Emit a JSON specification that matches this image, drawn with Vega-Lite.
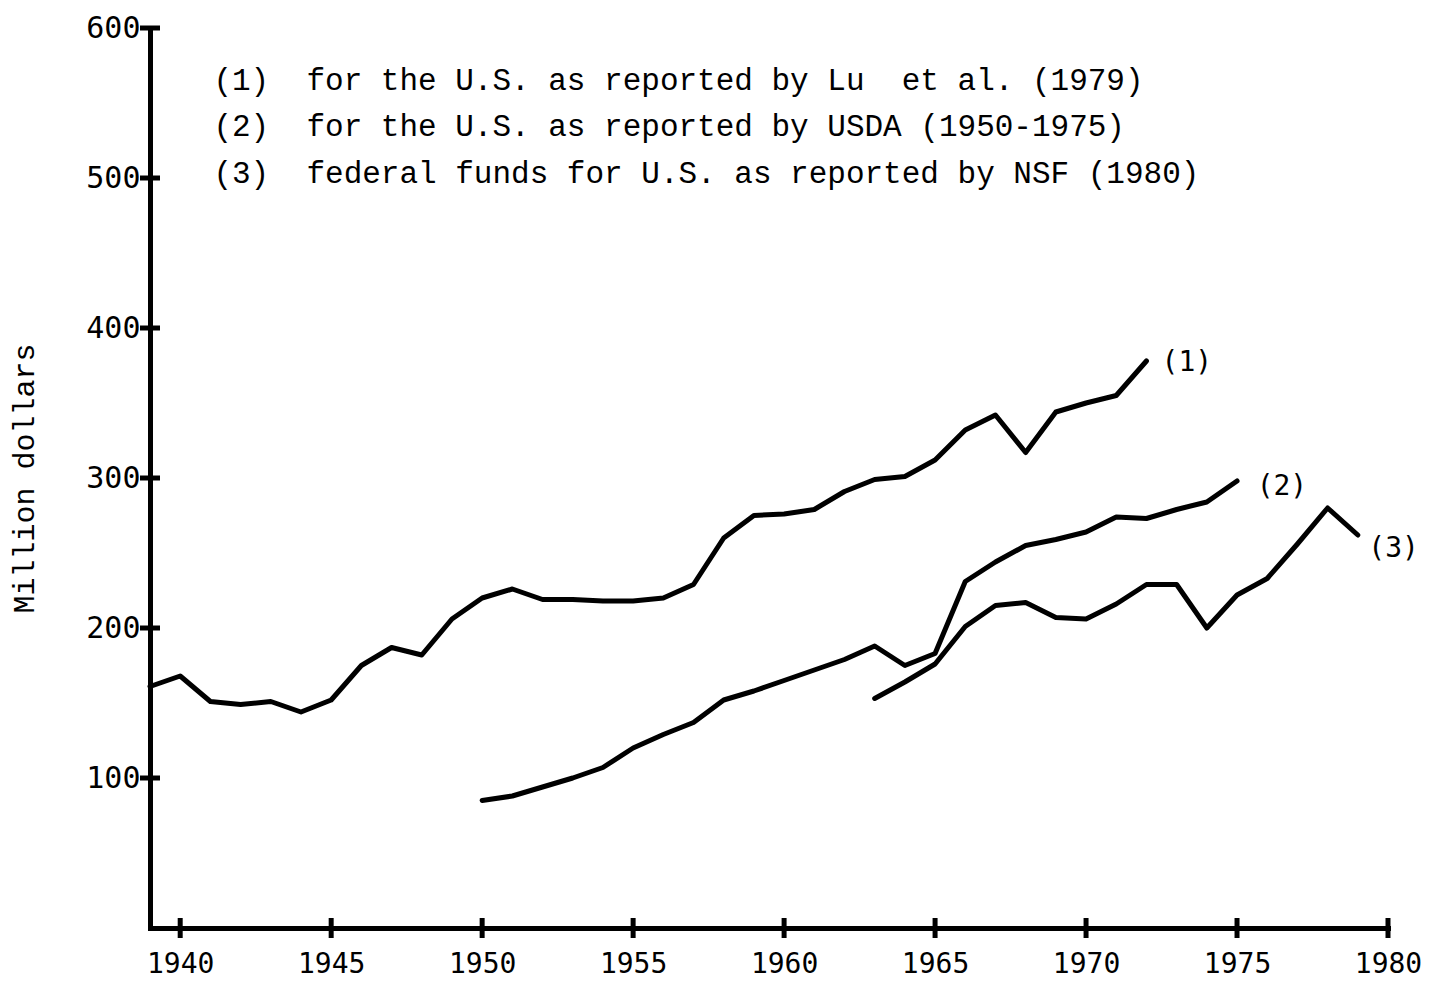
{
  "$schema": "https://vega.github.io/schema/vega-lite/v6.json",
  "width": 1238,
  "height": 900,
  "autosize": "none",
  "padding": {"left": 150, "top": 28, "right": 48, "bottom": 53},
  "background": "white",
  "config": {"view": {"stroke": null}},
  "datasets": {
    "series": [
      {"series": "1", "year": 1939, "value": 161},
      {"series": "1", "year": 1940, "value": 168},
      {"series": "1", "year": 1941, "value": 151},
      {"series": "1", "year": 1942, "value": 149},
      {"series": "1", "year": 1943, "value": 151},
      {"series": "1", "year": 1944, "value": 144},
      {"series": "1", "year": 1945, "value": 152},
      {"series": "1", "year": 1946, "value": 175},
      {"series": "1", "year": 1947, "value": 187},
      {"series": "1", "year": 1948, "value": 182},
      {"series": "1", "year": 1949, "value": 206},
      {"series": "1", "year": 1950, "value": 220},
      {"series": "1", "year": 1951, "value": 226},
      {"series": "1", "year": 1952, "value": 219},
      {"series": "1", "year": 1953, "value": 219},
      {"series": "1", "year": 1954, "value": 218},
      {"series": "1", "year": 1955, "value": 218},
      {"series": "1", "year": 1956, "value": 220},
      {"series": "1", "year": 1957, "value": 229},
      {"series": "1", "year": 1958, "value": 260},
      {"series": "1", "year": 1959, "value": 275},
      {"series": "1", "year": 1960, "value": 276},
      {"series": "1", "year": 1961, "value": 279},
      {"series": "1", "year": 1962, "value": 291},
      {"series": "1", "year": 1963, "value": 299},
      {"series": "1", "year": 1964, "value": 301},
      {"series": "1", "year": 1965, "value": 312},
      {"series": "1", "year": 1966, "value": 332},
      {"series": "1", "year": 1967, "value": 342},
      {"series": "1", "year": 1968, "value": 317},
      {"series": "1", "year": 1969, "value": 344},
      {"series": "1", "year": 1970, "value": 350},
      {"series": "1", "year": 1971, "value": 355},
      {"series": "1", "year": 1972, "value": 378},
      {"series": "2", "year": 1950, "value": 85},
      {"series": "2", "year": 1951, "value": 88},
      {"series": "2", "year": 1952, "value": 94},
      {"series": "2", "year": 1953, "value": 100},
      {"series": "2", "year": 1954, "value": 107},
      {"series": "2", "year": 1955, "value": 120},
      {"series": "2", "year": 1956, "value": 129},
      {"series": "2", "year": 1957, "value": 137},
      {"series": "2", "year": 1958, "value": 152},
      {"series": "2", "year": 1959, "value": 158},
      {"series": "2", "year": 1960, "value": 165},
      {"series": "2", "year": 1961, "value": 172},
      {"series": "2", "year": 1962, "value": 179},
      {"series": "2", "year": 1963, "value": 188},
      {"series": "2", "year": 1964, "value": 175},
      {"series": "2", "year": 1965, "value": 183},
      {"series": "2", "year": 1966, "value": 231},
      {"series": "2", "year": 1967, "value": 244},
      {"series": "2", "year": 1968, "value": 255},
      {"series": "2", "year": 1969, "value": 259},
      {"series": "2", "year": 1970, "value": 264},
      {"series": "2", "year": 1971, "value": 274},
      {"series": "2", "year": 1972, "value": 273},
      {"series": "2", "year": 1973, "value": 279},
      {"series": "2", "year": 1974, "value": 284},
      {"series": "2", "year": 1975, "value": 298},
      {"series": "3", "year": 1963, "value": 153},
      {"series": "3", "year": 1964, "value": 164},
      {"series": "3", "year": 1965, "value": 176},
      {"series": "3", "year": 1966, "value": 201},
      {"series": "3", "year": 1967, "value": 215},
      {"series": "3", "year": 1968, "value": 217},
      {"series": "3", "year": 1969, "value": 207},
      {"series": "3", "year": 1970, "value": 206},
      {"series": "3", "year": 1971, "value": 216},
      {"series": "3", "year": 1972, "value": 229},
      {"series": "3", "year": 1973, "value": 229},
      {"series": "3", "year": 1974, "value": 200},
      {"series": "3", "year": 1975, "value": 222},
      {"series": "3", "year": 1976, "value": 233},
      {"series": "3", "year": 1977, "value": 256},
      {"series": "3", "year": 1978, "value": 280},
      {"series": "3", "year": 1979, "value": 262}
    ],
    "xticks": [
      {"year": 1940, "value": 0}, {"year": 1945, "value": 0}, {"year": 1950, "value": 0},
      {"year": 1955, "value": 0}, {"year": 1960, "value": 0}, {"year": 1965, "value": 0},
      {"year": 1970, "value": 0}, {"year": 1975, "value": 0}, {"year": 1980, "value": 0}
    ],
    "yticks": [
      {"year": 1939, "value": 100}, {"year": 1939, "value": 200}, {"year": 1939, "value": 300},
      {"year": 1939, "value": 400}, {"year": 1939, "value": 500}, {"year": 1939, "value": 600}
    ],
    "endlabels": [
      {"label": "(1)", "year": 1972.5, "value": 377},
      {"label": "(2)", "year": 1975.65, "value": 294},
      {"label": "(3)", "year": 1979.35, "value": 253}
    ],
    "notes": [
      {"label": "(1)\u00a0\u00a0for the U.S. as reported by Lu\u00a0\u00a0et al. (1979)", "year": 1941.1, "value": 565},
      {"label": "(2)\u00a0\u00a0for the U.S. as reported by USDA (1950-1975)", "year": 1941.1, "value": 534},
      {"label": "(3)\u00a0\u00a0federal funds for U.S. as reported by NSF (1980)", "year": 1941.1, "value": 503}
    ]
  },
  "encoding": {
    "x": {
      "field": "year",
      "type": "quantitative",
      "scale": {"domain": [1939, 1980], "nice": false, "zero": false},
      "axis": {
        "values": [1940, 1945, 1950, 1955, 1960, 1965, 1970, 1975, 1980],
        "format": "d",
        "tickSize": 0,
        "domainWidth": 5,
        "domainColor": "black",
        "domainCap": "square",
        "labelFont": "DejaVu Sans Mono",
        "labelFontSize": 28,
        "labelColor": "black",
        "labelPadding": 22,
        "labelFlush": false,
        "labelOverlap": false,
        "grid": false,
        "title": null
      }
    },
    "y": {
      "field": "value",
      "type": "quantitative",
      "scale": {"domain": [0, 600], "nice": false},
      "axis": {
        "values": [100, 200, 300, 400, 500, 600],
        "format": "d",
        "tickSize": 0,
        "domainWidth": 5,
        "domainColor": "black",
        "domainCap": "square",
        "labelFont": "DejaVu Sans Mono",
        "labelFontSize": 30,
        "labelColor": "black",
        "labelPadding": 10,
        "labelFlush": false,
        "labelOverlap": false,
        "grid": false,
        "title": "Million dollars",
        "titleFont": "Liberation Mono",
        "titleFontSize": 30,
        "titleFontWeight": "normal",
        "titleColor": "black",
        "titlePadding": 46
      }
    }
  },
  "layer": [
    {
      "data": {"name": "series"},
      "mark": {"type": "line", "color": "black", "strokeWidth": 5, "strokeJoin": "round", "strokeCap": "round"},
      "encoding": {"detail": {"field": "series", "type": "nominal"}}
    },
    {
      "data": {"name": "xticks"},
      "mark": {"type": "tick", "orient": "vertical", "size": 20, "thickness": 5, "color": "black", "opacity": 1},
      "encoding": {}
    },
    {
      "data": {"name": "yticks"},
      "mark": {"type": "tick", "orient": "horizontal", "size": 20, "thickness": 5, "color": "black", "opacity": 1},
      "encoding": {}
    },
    {
      "data": {"name": "endlabels"},
      "mark": {"type": "text", "align": "left", "baseline": "middle", "font": "DejaVu Sans Mono", "fontSize": 28, "color": "black"},
      "encoding": {"text": {"field": "label", "type": "nominal"}}
    },
    {
      "data": {"name": "notes"},
      "mark": {"type": "text", "align": "left", "baseline": "middle", "font": "Liberation Mono", "fontSize": 31, "color": "black"},
      "encoding": {"text": {"field": "label", "type": "nominal"}}
    }
  ]
}
